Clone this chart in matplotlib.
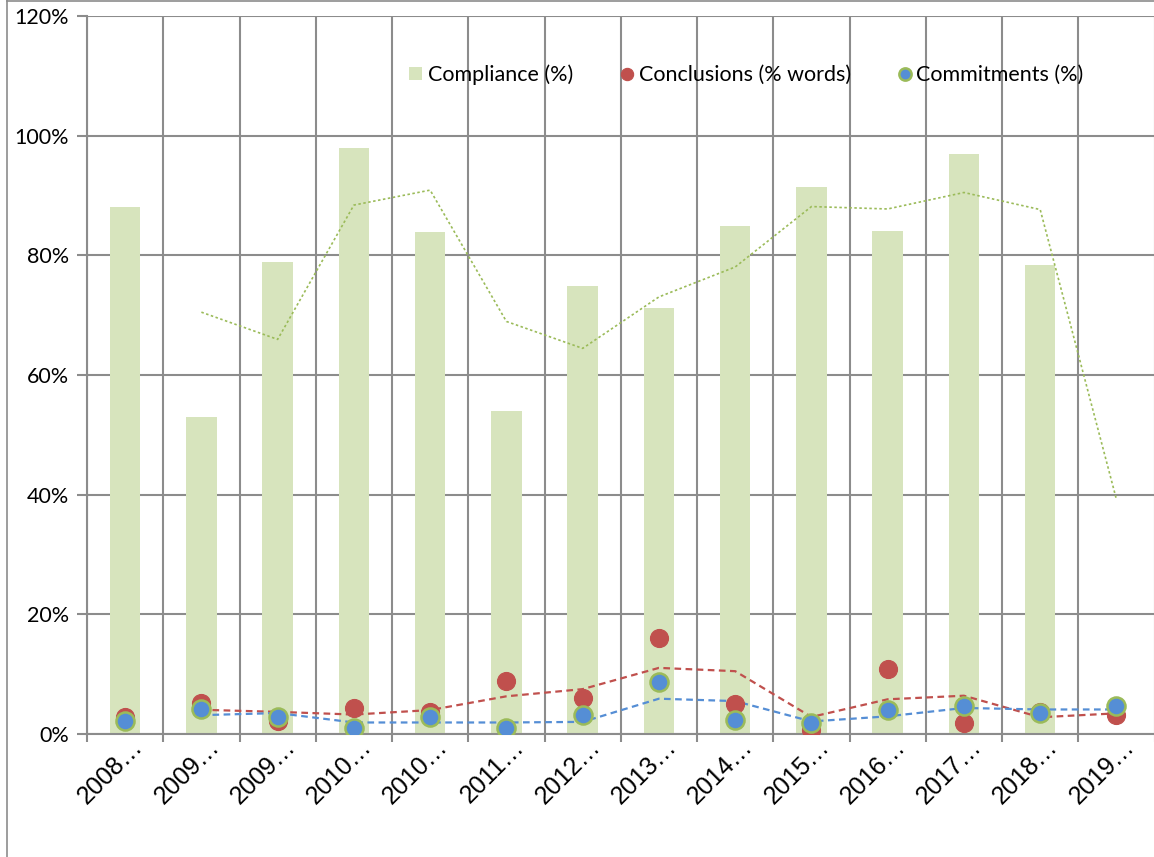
import matplotlib
matplotlib.use("Agg")
import matplotlib.pyplot as plt
import matplotlib.transforms as mtransforms
import numpy as np
from matplotlib.ticker import FuncFormatter, FixedLocator, MultipleLocator, NullFormatter

categories = ["2008…", "2009…", "2009…", "2010…", "2010…", "2011…", "2012…",
              "2013…", "2014…", "2015…", "2016…", "2017…", "2018…", "2019…"]
compliance = [88.0, 53.0, 78.9, 97.9, 83.9, 54.0, 74.9, 71.2, 84.9, 91.4, 84.1, 96.9, 78.4, 0.0]
conclusions = [2.9, 5.2, 2.2, 4.3, 3.7, 8.9, 6.1, 16.0, 5.0, 0.7, 10.9, 1.9, 3.7, 3.2]
commitments = [2.2, 4.1, 2.9, 0.95, 2.9, 0.95, 3.1, 8.7, 2.3, 1.9, 4.0, 4.7, 3.5, 4.7]

def moving_avg(v):
    v = np.asarray(v, float)
    return (v[1:] + v[:-1]) / 2.0

BAR = "#D7E4BD"
RED = "#C0504D"
BLUE = "#558ED5"
GREEN = "#9BBB59"
GRID = "#8C8C8C"

fig = plt.figure(figsize=(11.54, 8.57), dpi=100)
ax = fig.add_axes([87/1154, 123/857, 1 - 87/1154 + 0.0005, (734-16)/857])

x = np.arange(len(categories))
h_bar = ax.bar(x, compliance, width=0.4, color=BAR, zorder=2, label="Compliance (%)")
ax.plot(x[1:], moving_avg(compliance), color=GREEN, lw=1.2, ls=(0, (1.5, 1.5)), zorder=3)
ax.plot(x[1:], moving_avg(conclusions), color=RED, lw=1.6, ls=(0, (3, 2)), zorder=3)
ax.plot(x[1:], moving_avg(commitments), color=BLUE, lw=1.6, ls=(0, (3, 2)), zorder=3)
h_red, = ax.plot(x, conclusions, ls="none", marker="o", ms=13, mfc=RED, mec=RED, mew=0.8,
                 zorder=4, label="Conclusions (% words)")
h_blue, = ax.plot(x, commitments, ls="none", marker="o", ms=13, mfc=BLUE, mec=GREEN, mew=1.8,
                  zorder=5, label="Commitments (%)")

ax.set_xlim(-0.5, len(categories) - 0.5)
ax.set_ylim(0, 120)
ax.yaxis.set_major_locator(MultipleLocator(20))
ax.yaxis.set_major_formatter(FuncFormatter(lambda v, p: f"{v:.0f}%"))
ax.xaxis.set_major_locator(FixedLocator(x))
ax.xaxis.set_major_formatter(NullFormatter())
ax.xaxis.set_minor_locator(FixedLocator(np.arange(-0.5, len(categories), 1.0)))
ax.tick_params(axis="x", which="major", length=0)
ax.tick_params(axis="x", which="minor", length=6, width=1.5, color=GRID)
ax.tick_params(axis="y", length=7, width=1.5, color=GRID, pad=6, labelsize=15.5)
for lab in ax.get_yticklabels():
    lab.set_family("Lato")

# rotated category labels
lab_tr = ax.get_xaxis_transform() + mtransforms.ScaledTranslation(0.19, -0.14, fig.dpi_scale_trans)
for xi, name in zip(x, categories):
    ax.text(xi, 0, name, transform=lab_tr, rotation=45, rotation_mode="anchor",
            ha="right", va="baseline", fontsize=18, family="Liberation Sans", clip_on=False)

ax.grid(True, axis="y", which="major", color=GRID, lw=1.5, zorder=1)
ax.grid(True, axis="x", which="minor", color=GRID, lw=1.5, zorder=1)
for s in ["top", "right"]:
    ax.spines[s].set_visible(False)
ax.spines["left"].set_color(GRID)
ax.spines["left"].set_linewidth(1.5)
ax.spines["bottom"].set_color(GRID)
ax.spines["bottom"].set_linewidth(1.5)

leg = ax.legend([h_bar, h_red, h_blue],
                ["Compliance (%)", "Conclusions (% words)", "Commitments (%)"],
                loc="center left", bbox_to_anchor=(0.292, 0.918), ncol=3, frameon=False,
                prop={"family": "Lato", "size": 15.5}, handlelength=0.6, handleheight=0.6,
                handletextpad=0.25, columnspacing=2.2, markerscale=0.68, borderpad=0)

# outer chart border (left and top)
fig.add_artist(plt.Line2D([7/1154, 7/1154], [0, 1], transform=fig.transFigure, color=GRID, lw=1.2))
fig.add_artist(plt.Line2D([7/1154, 1], [1 - 1/857, 1 - 1/857], transform=fig.transFigure, color=GRID, lw=1.2))

fig.savefig("out.png", dpi=100)
